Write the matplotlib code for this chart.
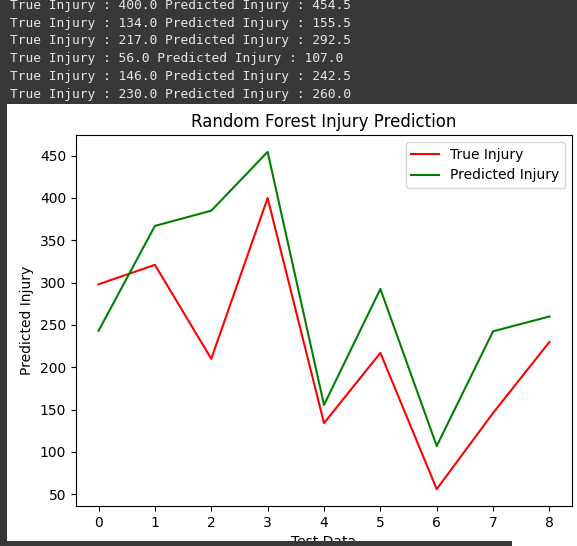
import matplotlib
matplotlib.use("Agg")
import matplotlib.pyplot as plt
from matplotlib.patches import Rectangle

# test data values
test_index = [0, 1, 2, 3, 4, 5, 6, 7, 8]
true_injury = [298.0, 321.0, 210.0, 400.0, 134.0, 217.0, 56.0, 146.0, 230.0]
pred_injury = [243.0, 367.0, 385.0, 454.5, 155.5, 292.5, 107.0, 242.5, 260.0]

# the console lines printed above the chart (last six rows)
log_true = true_injury[3:]
log_pred = pred_injury[3:]

W, H = 577, 546
fig = plt.figure(figsize=(W / 100, H / 100), dpi=100)
fig.patch.set_facecolor("white")

dark = "#383838"
# console band at top, plus the dark strips left and bottom
fig.patches.append(Rectangle((0, 1 - 104 / H), 1, 104 / H, transform=fig.transFigure,
                             facecolor=dark, edgecolor="none", zorder=0))
fig.patches.append(Rectangle((0, 0), 7 / W, 1, transform=fig.transFigure,
                             facecolor=dark, edgecolor="none", zorder=0))
fig.patches.append(Rectangle((0, 0), 512 / W, 5 / H, transform=fig.transFigure,
                             facecolor=dark, edgecolor="none", zorder=3))

# console text
for i, (t, p) in enumerate(zip(log_true, log_pred)):
    y_px = 5.5 + i * 17.7
    fig.text(10 / W, 1 - y_px / H, f"True Injury : {t} Predicted Injury : {p}",
             family="DejaVu Sans Mono", fontsize=9.3, color="#e6e6e6",
             va="center", ha="left", zorder=2)

# main axes
ax = fig.add_axes([76 / W, 1 - 506 / H, (572 - 76) / W, (506 - 135) / H])
ax.plot(test_index, true_injury, color="red", label="True Injury")
ax.plot(test_index, pred_injury, color="green", label="Predicted Injury")
ax.set_title("Random Forest Injury Prediction")
ax.set_xlabel("Test Data")
ax.set_ylabel("Predicted Injury")
ax.legend()

fig.savefig("out.png", dpi=100)
